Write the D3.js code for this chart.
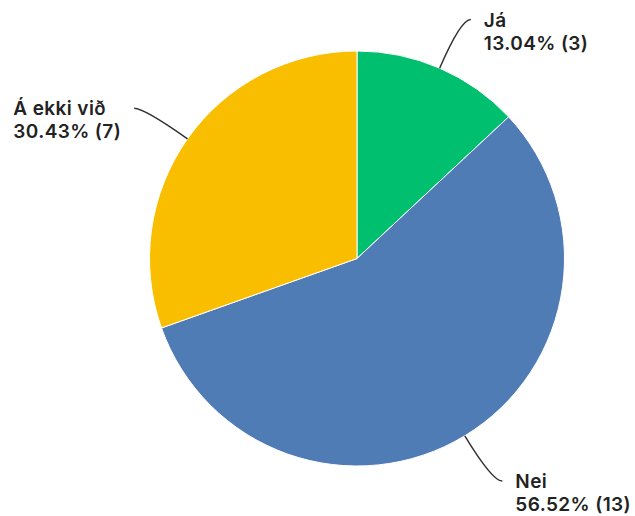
<!DOCTYPE html>
<html>
<head>
<meta charset="utf-8">
<script src="https://cdn.jsdelivr.net/npm/d3@7"></script>
<style>
  body { margin: 0; background: #fff; }
  text { font-family: Inter, Roboto, "Noto Sans", sans-serif; font-weight: 600; font-size: 19px; letter-spacing: 0.4px; fill: #222; }
</style>
</head>
<body>
<div id="chart"></div>
<script>
const categories = ["Já", "Nei", "Á ekki við"];
const counts = [3, 13, 7];
const percentLabels = ["13.04%", "56.52%", "30.43%"];
const colors = ["#00BF6F", "#507CB6", "#F9BE00"];

const width = 635, height = 516;
const cx = 357, cy = 258.5, radius = 207.5;

const svg = d3.select("#chart")
    .append("svg")
    .attr("width", width)
    .attr("height", height);

const g = svg.append("g")
    .attr("transform", "translate(" + cx + "," + cy + ")");

const data = categories.map((c, i) => ({ name: c, value: counts[i], pct: percentLabels[i], color: colors[i] }));

const pie = d3.pie().value(d => d.value).sort(null);
const arcs = pie(data);

const arc = d3.arc().innerRadius(0).outerRadius(radius);

g.selectAll("path.slice")
    .data(arcs)
    .enter()
    .append("path")
    .attr("class", "slice")
    .attr("d", arc)
    .attr("fill", d => d.data.color)
    .attr("stroke", "#fff")
    .attr("stroke-width", 1);

// leader lines + labels
const ext = 53, tail = 10, gap = 13;
arcs.forEach(d => {
    const a = (d.startAngle + d.endAngle) / 2;
    const sx = Math.sin(a), sy = -Math.cos(a);
    const p0 = [sx * radius, sy * radius];
    const p1 = [sx * (radius + ext), sy * (radius + ext)];
    const right = sx >= 0;
    const p2 = [p1[0] + (right ? tail : -tail), p1[1]];

    g.append("path")
        .attr("d", "M" + p0 + "Q" + p1 + " " + p2)
        .attr("fill", "none")
        .attr("stroke", "#333")
        .attr("stroke-width", 1.5);

    const t = g.append("text")
        .attr("y", p2[1] + 7);
    t.append("tspan").text(d.data.name).attr("x", 0);
    t.append("tspan").text(d.data.pct + " (" + d.data.value + ")").attr("x", 0).attr("dy", 23);

    const w = t.node().getBBox().width;
    const x = right ? p2[0] + gap : p2[0] - gap - w;
    t.selectAll("tspan").attr("x", x);
});
</script>
</body>
</html>
